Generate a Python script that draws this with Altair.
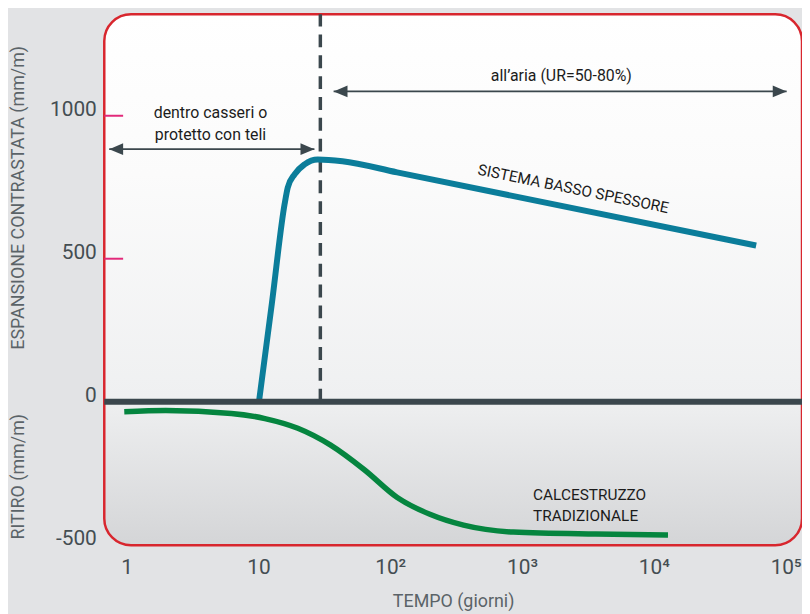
import altair as alt
import pandas as pd

# ---------------- data ----------------
# SISTEMA BASSO SPESSORE (blue) : time in days, expansion in mm/m
blue_days = [10.1, 12.65, 15.8, 16.7, 18.8, 22.4, 28.2, 43.4, 112.7, 59700]
blue_vals = [0, 344, 691, 749, 795, 830, 847, 841, 802, 546]

# CALCESTRUZZO TRADIZIONALE (green) : time in days, shrinkage in mm/m
green_days = [0.96, 1.98, 6.23, 11.2, 19.9, 35.3, 63.6, 113, 200, 360, 857, 3610, 12800]
green_vals = [-35, -31, -41, -59, -93, -152, -238, -335, -394, -432, -456, -463, -466]

# x tick values and labels
x_ticks = [1, 10, 100, 1000, 10000, 100000]
x_tick_labels = ["1", "10", "10²", "10³", "10⁴", "10⁵"]
y_ticks = [-500, 0, 500, 1000]
pink_ticks = [1000, 500]

# 28-day separator (curing end)
cure_day = [29.5]

# arrows: start, end, level
arrow_start = [0.738, 37.2]
arrow_end = [26.6, 101700]
arrow_level = [883, 1085]

# annotation texts
phase_text_days = [4.33, 4.33, 1987]
phase_text_vals = [1011, 932, 1138]
phase_texts = ["dentro casseri o", "protetto con teli", "all’aria (UR=50-80%)"]

series_label_day = [2448]
series_label_val = [744]
series_label = ["SISTEMA BASSO SPESSORE"]

concrete_label_days = [1212, 1212]
concrete_label_vals = [-328, -401]
concrete_labels = ["CALCESTRUZZO", "TRADIZIONALE"]

y_title_top = "ESPANSIONE CONTRASTATA (mm/m)"
y_title_bottom = "RITIRO (mm/m)"
x_title = "TEMPO (giorni)"

# ---------------- layout / style ----------------
W, H = 703, 535
DARK = "#3b474d"
BLUE = "#0b7d9a"
GREEN = "#05853f"
RED = "#d8262e"
PINK = "#e2297a"
FONT = "Roboto"

label_expr = " : ".join(
    f"datum.value == {v} ? '{l}'" for v, l in zip(x_ticks[:-1], x_tick_labels[:-1])
) + f" : '{x_tick_labels[-1]}'"

x_scale = alt.Scale(type="log", domain=[0.677, 133000], nice=False)
y_scale = alt.Scale(domain=[-502, 1355], nice=False, zero=False)

x_axis = alt.Axis(
    values=x_ticks, labelExpr=label_expr, domain=False, ticks=False, grid=False,
    labelFontSize=21, labelColor="#444d52", labelPadding=11, labelFlush=False,
    labelOverlap=False, labelBaseline="top", labelFont=FONT,
    title=x_title, titleFontSize=18, titleFontWeight="normal", titleColor="#5b6368",
    titlePadding=16, titleFont=FONT,
)
y_axis = alt.Axis(
    values=y_ticks, domain=False, ticks=False, grid=False,
    labelExpr="datum.value < 0 ? '-' + abs(datum.value) : '' + datum.value",
    labelFontSize=21, labelColor="#444d52", labelPadding=8, labelOffset=-6,
    labelFlush=False, labelOverlap=False, labelFont=FONT, title=None,
)


def X(field):
    return alt.X(f"{field}:Q", scale=x_scale, axis=x_axis)


def Y(field):
    return alt.Y(f"{field}:Q", scale=y_scale, axis=y_axis)


one = pd.DataFrame({"k": [0]})

gradient = alt.Gradient(
    gradient="linear",
    stops=[
        alt.GradientStop(color="#ffffff", offset=0),
        alt.GradientStop(color="#fbfbfb", offset=0.3),
        alt.GradientStop(color="#eff0f1", offset=0.72),
        alt.GradientStop(color="#d4d5d7", offset=1),
    ],
    x1=0, x2=0, y1=0, y2=1,
)

background = alt.Chart(one).mark_rect(
    fill=gradient, stroke=RED, strokeWidth=2.5, cornerRadius=27
).encode(x=alt.value(0), x2=alt.value(W), y=alt.value(0), y2=alt.value(H))

ticks_layer = alt.Chart(pd.DataFrame({"v": pink_ticks})).mark_rule(
    color=PINK, strokeWidth=2
).encode(y=Y("v"), x=alt.value(0), x2=alt.value(19))

dash_layer = alt.Chart(pd.DataFrame({"day": cure_day, "v": [0]})).mark_rule(
    color=DARK, strokeWidth=3.5, strokeDash=[13, 8]
).encode(x=X("day"), y=Y("v"), y2=alt.value(0))

green_layer = alt.Chart(pd.DataFrame({"day": green_days, "v": green_vals})).mark_line(
    color=GREEN, strokeWidth=5.5, interpolate="monotone", strokeCap="butt"
).encode(x=X("day"), y=Y("v"))

blue_layer = alt.Chart(pd.DataFrame({"day": blue_days, "v": blue_vals})).mark_line(
    color=BLUE, strokeWidth=6, interpolate="monotone", strokeCap="butt"
).encode(x=X("day"), y=Y("v"))

zero_layer = alt.Chart(pd.DataFrame({"v": [0]})).mark_rule(
    color=DARK, strokeWidth=6
).encode(y=Y("v"), x=alt.value(0), x2=alt.value(W))

arrow_df = pd.DataFrame({"x1": arrow_start, "x2": arrow_end, "v": arrow_level})
arrow_lines = alt.Chart(arrow_df).mark_rule(color=DARK, strokeWidth=1.8).encode(
    x=X("x1"), x2=alt.X2("x2"), y=Y("v")
)
left_heads = alt.Chart(pd.DataFrame({"day": arrow_start, "v": arrow_level})).mark_point(
    shape="M0,0L2,-0.85L2,0.85Z", size=196, filled=True, opacity=1, color=DARK, strokeWidth=0
).encode(x=X("day"), y=Y("v"))
right_heads = alt.Chart(pd.DataFrame({"day": arrow_end, "v": arrow_level})).mark_point(
    shape="M0,0L-2,-0.85L-2,0.85Z", size=196, filled=True, opacity=1, color=DARK, strokeWidth=0
).encode(x=X("day"), y=Y("v"))

phase_layer = alt.Chart(
    pd.DataFrame({"day": phase_text_days, "v": phase_text_vals, "t": phase_texts})
).mark_text(font=FONT, fontSize=16, color="#1c1c1c", align="center", baseline="middle").encode(
    x=X("day"), y=Y("v"), text="t:N"
)

series_layer = alt.Chart(
    pd.DataFrame({"day": series_label_day, "v": series_label_val, "t": series_label})
).mark_text(font=FONT, fontSize=15.5, color="#1c1c1c", align="center", baseline="middle", angle=11.5).encode(
    x=X("day"), y=Y("v"), text="t:N"
)

concrete_layer = alt.Chart(
    pd.DataFrame({"day": concrete_label_days, "v": concrete_label_vals, "t": concrete_labels})
).mark_text(font=FONT, fontSize=15.5, color="#1c1c1c", align="left", baseline="middle").encode(
    x=X("day"), y=Y("v"), text="t:N"
)

ytitle_top = alt.Chart(one).mark_text(
    font=FONT, fontSize=18, color="#5b6368", angle=270, align="center", baseline="middle"
).encode(x=alt.value(-86), y=alt.value(185), text=alt.value(y_title_top))

ytitle_bottom = alt.Chart(one).mark_text(
    font=FONT, fontSize=18, color="#5b6368", angle=270, align="center", baseline="middle"
).encode(x=alt.value(-86), y=alt.value(466), text=alt.value(y_title_bottom))

chart = alt.layer(
    background, ticks_layer, dash_layer, green_layer, blue_layer, zero_layer,
    arrow_lines, left_heads, right_heads,
    phase_layer, series_layer, concrete_layer, ytitle_top, ytitle_bottom,
).properties(
    width=W, height=H,
    autosize=alt.AutoSizeParams(type="none"),
    padding={"left": 97, "top": 4, "right": 0, "bottom": 67},
).configure(
    background="#e2e3e5", font=FONT
).configure_view(stroke=None)

chart.save("out.html", embed_options={"renderer": "svg", "actions": False})
